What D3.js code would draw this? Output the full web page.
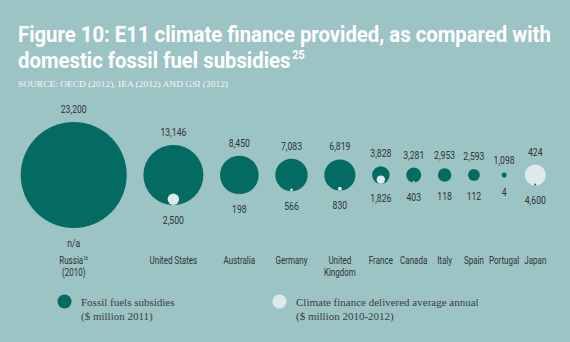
<!DOCTYPE html>
<html><head><meta charset="utf-8">
<script src="https://cdn.jsdelivr.net/npm/d3@7/dist/d3.min.js"></script>
<style>
html,body{margin:0;padding:0;background:#9cc4c4;}
svg{display:block;}
</style></head>
<body>
<svg id="chart" width="570" height="342"></svg>
<script>
// ---- data ----
const countries = ["Russia","United States","Australia","Germany","United Kingdom","France","Canada","Italy","Spain","Portugal","Japan"];
const countryLabels = [["Russia","(2010)"],["United States"],["Australia"],["Germany"],["United","Kingdom"],["France"],["Canada"],["Italy"],["Spain"],["Portugal"],["Japan"]];
const fossilSubsidies = [23200,13146,8450,7083,6819,3828,3281,2953,2593,1098,424];
const climateFinance = [null,2500,198,566,830,1826,403,118,112,4,4600];
const titleLines = ["Figure 10: E11 climate finance provided, as compared with","domestic fossil fuel subsidies"];
const titleNote = "25";
const russiaNote = "26";
const sourceText = "SOURCE: OECD (2012), IEA (2012) AND GSI (2012)";
const legendItems = [["Fossil fuels subsidies","($ million 2011)"],["Climate finance delivered average annual","($ million 2010-2012)"]];

// ---- styles ----
const BG = "#9cc4c4", DARK = "#036b62", LIGHT = "#dde9ea", TXT = "#2e3333";
const SANS = "Roboto,'Liberation Sans',sans-serif";
const SERIF = "'Liberation Serif','DejaVu Serif',serif";

const svg = d3.select("#chart");
svg.append("rect").attr("width",570).attr("height",342).attr("fill",BG);

function textWidth(str, size, weight) {
  const p = svg.append("text").attr("font-family",SANS).attr("font-size",size).attr("font-weight",weight||"normal").text(str);
  const w = p.node().getComputedTextLength(); p.remove(); return w;
}
// text squeezed horizontally with a transform (condensed look)
function scaledText(parent, x, y, size, factor, opts) {
  return parent.append("text").attr("transform",`translate(${x},${y}) scale(${factor},1)`)
    .attr("font-family",SANS).attr("font-size",size).attr("font-weight",opts.weight||"normal")
    .attr("fill",opts.fill||TXT).attr("text-anchor",opts.anchor||"start");
}

// ---- title ----
const TS = 22.2;
const tFactor = 533 / textWidth(titleLines[0], TS, "bold");
scaledText(svg, 18, 42, TS, tFactor, {weight:"bold", fill:"#fff"}).text(titleLines[0]);
const t2 = scaledText(svg, 18, 68, TS, tFactor, {weight:"bold", fill:"#fff"});
t2.append("tspan").text(titleLines[1]);
t2.append("tspan").attr("font-size",12).attr("dx",2).attr("dy",-9.5).text(titleNote);

const src = svg.append("text").attr("x",18).attr("y",86.5)
  .attr("font-family",SERIF).attr("font-size",9.2).attr("fill","#f4f8f8").text(sourceText);
src.attr("textLength",210).attr("lengthAdjust","spacingAndGlyphs");

// label condense factors, derived from reference text widths
const LAB = 10.8, NUM = 11;
const labFactor = 47.7 / textWidth("United States", LAB);
const numFactor = 26 / textWidth("23,200", NUM);

// ---- scales & layout ----
const r = d3.scaleLinear().domain([0, d3.max(fossilSubsidies)]).range([0, 53]);
const cy = 175;
const left = 20.7, right = 545.8;
const maxR = countries.map((c,i)=> r(Math.max(fossilSubsidies[i], climateFinance[i] || 0)));
const labW = countryLabels.map(ls => d3.max(ls, l => textWidth(l, LAB)) * labFactor);
// spacing between neighbours: circles separated by pad, labels by at least 5px
function spacings(pad){ return maxR.slice(1).map((m,k)=> Math.max(maxR[k] + m + pad, (labW[k] + labW[k+1])/2 + 5)); }
let lo = 0, hi = 60;
for (let it=0; it<50; it++){ const mid=(lo+hi)/2; (d3.sum(spacings(mid)) + maxR[0] + maxR[maxR.length-1] > right-left) ? hi=mid : lo=mid; }
const sp = spacings(lo);
const xs = [left + maxR[0]];
sp.forEach(s => xs.push(xs[xs.length-1] + s));

const fmt = d3.format(",");
const g = svg.append("g");

countries.forEach((c,i)=>{
  const items = [{v:fossilSubsidies[i], col:DARK},{v:climateFinance[i], col:LIGHT}]
    .filter(d=>d.v!=null).sort((a,b)=>b.v-a.v);
  const bottom = cy + maxR[i];
  items.forEach(d=>{
    g.append("circle").attr("cx",xs[i]).attr("cy",bottom - r(d.v)).attr("r",r(d.v)).attr("fill",d.col);
  });
  scaledText(g, xs[i], cy - maxR[i] - 12.8, NUM, numFactor, {anchor:"middle"})
    .attr("dy","0.35em").text(fmt(fossilSubsidies[i]));
  scaledText(g, xs[i], bottom + 14.8, NUM, numFactor, {anchor:"middle"})
    .attr("dy","0.35em").text(climateFinance[i]==null ? "n/a" : fmt(climateFinance[i]));
  const lab = scaledText(g, xs[i], 264, LAB, labFactor, {anchor:"middle"});
  countryLabels[i].forEach((line,j)=>{
    const ts = lab.append("tspan").attr("x",0).attr("y", j*11.8).text(line);
    if (c === "Russia" && j === 0) {
      ts.append("tspan").attr("font-size",5.5).attr("dx",0.5).attr("dy",-4.5).text(russiaNote);
    }
  });
});

// ---- legend ----
const legendX = [64.5, 279.5];
const legendCol = [DARK, LIGHT];
legendItems.forEach((lines,i)=>{
  svg.append("circle").attr("cx",legendX[i]).attr("cy",301.5).attr("r",7).attr("fill",legendCol[i]);
  const t = svg.append("text").attr("font-family",SERIF).attr("font-size",11).attr("fill","#3a3f40");
  lines.forEach((l,j)=>{
    t.append("tspan").attr("x",legendX[i]+16.5).attr("y",305.5 + j*14.5).text(l);
  });
});
</script>
</body></html>
